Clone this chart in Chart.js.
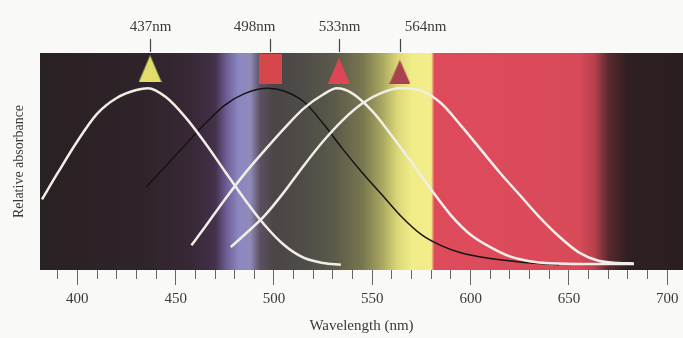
<!DOCTYPE html>
<html>
<head>
<meta charset="utf-8">
<script src="https://cdn.jsdelivr.net/npm/chart.js@4"></script>
<style>
  html, body { margin: 0; padding: 0; background: #f9f9f7; }
  #wrap { width: 683px; height: 338px; }
</style>
</head>
<body>
<div id="wrap"><canvas id="grafik"></canvas></div>
<script>
// peak wavelengths and their labels
const peaks = [437, 498, 533, 564];
const peakLabels = ['437nm', '498nm', '533nm', '564nm'];
const markerAbs = [1.11, 1.107, 1.10, 1.093];

// S cone (blue)
const sWave = [382, 390, 400, 410, 420, 430, 436, 445, 455, 465, 475, 485, 495, 505, 515, 525, 534];
const sAbs = [0.37, 0.52, 0.70, 0.855, 0.945, 0.99, 1.0, 0.95, 0.835, 0.69, 0.53, 0.372, 0.228, 0.113, 0.04, 0.01, 0.0];

// rods
const rWave = [435, 445, 455, 465, 475, 485, 497, 505, 515, 525, 535, 545, 555, 565, 575, 585, 595, 605, 615, 625, 635, 645];
const rAbs = [0.44, 0.56, 0.68, 0.80, 0.905, 0.97, 1.0, 0.985, 0.925, 0.80, 0.655, 0.52, 0.395, 0.27, 0.17, 0.108, 0.068, 0.044, 0.028, 0.016, 0.007, 0.0];

// M cone (green)
const mWave = [458, 465, 475, 485, 495, 505, 515, 525, 532, 540, 550, 560, 570, 580, 590, 600, 610, 620, 630, 640, 660, 683];
const mAbs = [0.11, 0.215, 0.37, 0.515, 0.645, 0.77, 0.885, 0.965, 1.0, 0.97, 0.87, 0.73, 0.58, 0.425, 0.28, 0.17, 0.10, 0.047, 0.02, 0.008, 0.004, 0.004];

// L cone (red)
const lWave = [478, 485, 495, 505, 515, 525, 535, 545, 555, 564, 575, 585, 595, 605, 615, 625, 635, 645, 655, 665, 675, 683];
const lAbs = [0.10, 0.17, 0.275, 0.41, 0.56, 0.70, 0.82, 0.915, 0.975, 1.0, 0.985, 0.915, 0.79, 0.655, 0.52, 0.395, 0.27, 0.16, 0.07, 0.022, 0.01, 0.007];

// spectrum colours behind the plot (wavelength -> colour)
const specStops = [
  [381, '#2a2124'], [430, '#2e2329'], [458, '#382836'], [470, '#43304a'],
  [476, '#6e5f95'], [482, '#8c87c2'], [488, '#8e8ab8'], [493, '#5c5060'],
  [500, '#4b4546'], [515, '#4f4c48'], [530, '#5a594a'], [545, '#77764f'],
  [555, '#a9a760'], [563, '#dcd878'], [570, '#f0ec88'], [580, '#f3ec8a'],
  [581.5, '#de4a5a'], [600, '#dd4b5c'], [655, '#d94a59'], [663, '#b8404d'],
  [670, '#5a2a30'], [680, '#2e1f22'], [708, '#2b1e21']
];

const labelShift = [0, -16, 0, 25];
const serif = '"Liberation Serif", "DejaVu Serif", serif';

function pts(w, a) {
  return w.map((v, i) => ({ x: v, y: a[i] }));
}

function marker(w, h, color, shape) {
  const c = document.createElement('canvas');
  c.width = w;
  c.height = h;
  const g = c.getContext('2d');
  g.fillStyle = color;
  if (shape === 'rect') {
    g.fillRect(0, 0, w, h);
  } else {
    g.beginPath();
    g.moveTo(w / 2, 0);
    g.lineTo(w, h);
    g.lineTo(0, h);
    g.closePath();
    g.fill();
  }
  return c;
}

const markers = [
  marker(23, 27, '#e2de6c', 'tri'),
  marker(23, 30, '#d6474c', 'rect'),
  marker(22, 26, '#dc4656', 'tri'),
  marker(21, 24, '#a9424f', 'tri')
];

const spectrumBg = {
  id: 'spectrumBg',
  beforeDatasetsDraw(chart) {
    const { ctx, chartArea: a, scales: { x } } = chart;
    const g = ctx.createLinearGradient(a.left, 0, a.right, 0);
    specStops.forEach(([nm, col]) => {
      const t = (x.getPixelForValue(nm) - a.left) / (a.right - a.left);
      g.addColorStop(Math.min(1, Math.max(0, t)), col);
    });
    ctx.save();
    ctx.fillStyle = g;
    ctx.fillRect(a.left, a.top, a.width, a.height);
    ctx.restore();
  }
};

const peakTags = {
  id: 'peakTags',
  afterDraw(chart) {
    const { ctx, scales: { x } } = chart;
    ctx.save();
    ctx.font = '15px ' + serif;
    ctx.fillStyle = '#3a3a3a';
    ctx.strokeStyle = '#444';
    ctx.lineWidth = 1.2;
    ctx.textAlign = 'center';
    ctx.textBaseline = 'middle';
    peaks.forEach((p, i) => {
      const px = Math.round(x.getPixelForValue(p)) + 0.5;
      ctx.fillText(peakLabels[i], px + labelShift[i], 27);
      ctx.beginPath();
      ctx.moveTo(px, 39);
      ctx.lineTo(px, 52);
      ctx.stroke();
    });
    ctx.restore();
  }
};

const line = (data, color, width) => ({
  data: data,
  borderColor: color,
  borderWidth: width,
  pointRadius: 0,
  fill: false,
  cubicInterpolationMode: 'monotone'
});

const noPad = s => { s.paddingLeft = 0; s.paddingRight = 0; };

new Chart(document.getElementById('grafik'), {
  type: 'line',
  data: {
    datasets: [
      line(pts(sWave, sAbs), '#f1eee6', 2.5),
      line(pts(mWave, mAbs), '#f1eee6', 2.5),
      line(pts(lWave, lAbs), '#f1eee6', 2.5),
      line(pts(rWave, rAbs), '#141414', 1.5),
      {
        data: peaks.map((p, i) => ({ x: p, y: markerAbs[i] })),
        showLine: false,
        pointStyle: markers,
        pointRadius: 12
      }
    ]
  },
  options: {
    responsive: true,
    maintainAspectRatio: false,
    animation: false,
    events: [],
    layout: { autoPadding: false, padding: { top: 53, right: 0, left: 0, bottom: 0 } },
    plugins: { legend: { display: false }, tooltip: { enabled: false } },
    scales: {
      x: {
        type: 'linear',
        weight: 1,
        min: 381,
        max: 708,
        ticks: {
          stepSize: 50,
          includeBounds: false,
          autoSkip: false,
          maxRotation: 0,
          padding: 5,
          color: '#3a3a3a',
          font: { family: serif, size: 15 }
        },
        grid: { drawOnChartArea: false, drawTicks: true, tickLength: 15, color: '#666' },
        border: { display: false },
        title: {
          display: true,
          text: 'Wavelength (nm)',
          color: '#3a3a3a',
          font: { family: serif, size: 15 },
          padding: { top: 2, bottom: 3 }
        },
        afterFit: s => { s.height = 68; noPad(s); }
      },
      xMinor: {
        type: 'linear',
        position: 'bottom',
        weight: 0,
        min: 381,
        max: 708,
        ticks: { display: false, stepSize: 10, includeBounds: false, autoSkip: false },
        grid: { drawOnChartArea: false, drawTicks: true, tickLength: 9, color: '#666' },
        border: { display: false },
        afterFit: s => { s.height = 0; noPad(s); }
      },
      y: {
        min: -0.03,
        max: 1.2,
        ticks: { display: false },
        grid: { display: false },
        border: { display: false },
        title: {
          display: true,
          text: 'Relative absorbance',
          color: '#3a3a3a',
          font: { family: serif, size: 14 },
          padding: { top: 11, bottom: 0 }
        },
        afterFit: s => { s.width = 40; }
      }
    }
  },
  plugins: [spectrumBg, peakTags]
});
</script>
</body>
</html>
